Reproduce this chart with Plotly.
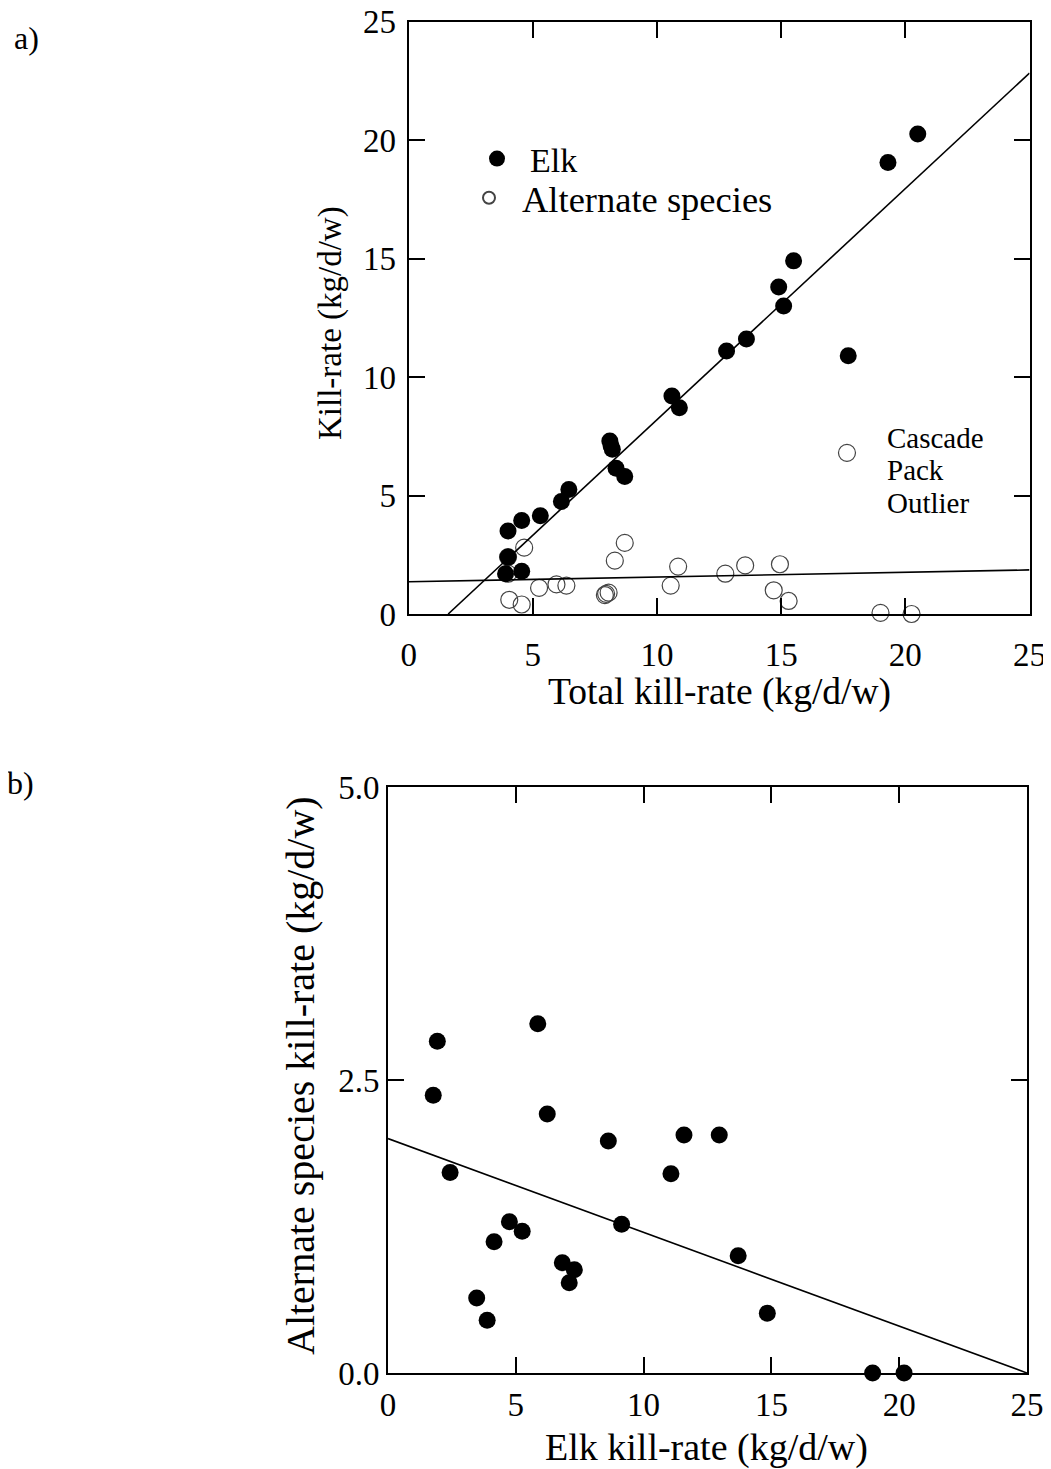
import numpy as np
import plotly.graph_objects as go

# ---------------- data: panel a) ----------------
total_elk_a = [3.9, 4.0, 4.0, 4.55, 4.55, 5.3, 6.15, 6.45, 8.1, 8.2, 8.15, 8.35, 8.7,
               10.6, 10.9, 12.8, 13.6, 14.9, 15.1, 15.5, 17.7, 19.3, 20.5]
elk_a = [1.7, 2.4, 3.5, 3.95, 1.8, 4.15, 4.75, 5.25, 7.3, 6.95, 7.1, 6.15, 5.8,
         9.2, 8.7, 11.1, 11.6, 13.8, 13.0, 14.9, 10.9, 19.05, 20.25]

total_alt_a = [4.05, 4.55, 4.65, 4.0, 4.0, 5.25, 5.95, 6.35, 8.05, 7.95, 7.9, 8.3, 8.7,
               10.55, 10.85, 12.75, 13.55, 14.95, 14.7, 15.3, 19.0, 20.25, 17.65]
alt_a = [0.6, 0.4, 2.8, 2.4, 1.7, 1.1, 1.25, 1.2, 0.9, 0.85, 0.8, 2.25, 3.0,
         1.2, 2.0, 1.7, 2.05, 2.1, 1.0, 0.55, 0.05, 0.0, 6.8]

elk_fit_slope, elk_fit_intercept = 0.975, -1.55
alt_fit_slope, alt_fit_intercept = 0.02, 1.36

# ---------------- data: panel b) ----------------
elk_b = [1.93, 1.77, 5.86, 6.23, 2.43, 4.75, 5.25, 4.15, 3.47, 3.88, 6.82, 7.29, 7.09,
         8.62, 9.14, 11.58, 12.96, 11.07, 13.7, 14.84, 18.96, 20.19]
alt_b = [2.83, 2.37, 2.98, 2.21, 1.71, 1.29, 1.21, 1.12, 0.64, 0.45, 0.94, 0.88, 0.77,
         1.98, 1.27, 2.03, 2.03, 1.70, 1.0, 0.51, 0.0, 0.0]
b_fit_slope, b_fit_intercept = -0.08, 2.0

x_ticks = [0, 5, 10, 15, 20, 25]
y_ticks_a = [0, 5, 10, 15, 20, 25]
y_ticks_b = [0.0, 2.5, 5.0]
y_ticktext_b = ["0.0", "2.5", "5.0"]

FONT = "Liberation Serif, Times New Roman, serif"
OFF = 8                      # page body margin of the browser
W, H = 1051 - OFF, 1469 - OFF


def fx(px):
    return (px - OFF) / W


def fy(py):
    return 1 - (py - OFF) / H


fig = go.Figure()

# panel a: alternate species first so elk dots sit on top
fig.add_trace(go.Scatter(
    x=total_alt_a, y=alt_a, mode="markers", name="Alternate species", legend="legend2",
    marker=dict(symbol="circle-open", size=17, color="#444444", line=dict(width=1.2)),
    xaxis="x", yaxis="y", cliponaxis=False))
fig.add_trace(go.Scatter(
    x=total_elk_a, y=elk_a, mode="markers", name="Elk", legend="legend",
    marker=dict(symbol="circle", size=17, color="black"),
    xaxis="x", yaxis="y", cliponaxis=False))

x0 = -elk_fit_intercept / elk_fit_slope
xl = np.array([x0, 25.0])
fig.add_trace(go.Scatter(x=xl, y=elk_fit_slope * xl + elk_fit_intercept, mode="lines",
                         line=dict(color="black", width=1.6), showlegend=False,
                         xaxis="x", yaxis="y"))
xl2 = np.array([0.0, 25.0])
fig.add_trace(go.Scatter(x=xl2, y=alt_fit_slope * xl2 + alt_fit_intercept, mode="lines",
                         line=dict(color="black", width=1.6), showlegend=False,
                         xaxis="x", yaxis="y"))

# panel b
fig.add_trace(go.Scatter(
    x=elk_b, y=alt_b, mode="markers", showlegend=False,
    marker=dict(symbol="circle", size=17, color="black"),
    xaxis="x2", yaxis="y2", cliponaxis=False))
fig.add_trace(go.Scatter(x=xl2, y=b_fit_slope * xl2 + b_fit_intercept, mode="lines",
                         line=dict(color="black", width=1.6), showlegend=False,
                         xaxis="x2", yaxis="y2"))

axis_common = dict(showline=True, linecolor="black", linewidth=2, mirror="ticks",
                   ticks="inside", ticklen=16, tickwidth=2, tickcolor="black",
                   showgrid=False, zeroline=False, automargin=False,
                   ticklabeloverflow="allow",
                   tickfont=dict(family=FONT, size=33, color="black"))

legend_common = dict(xanchor="left", yanchor="middle", bgcolor="rgba(0,0,0,0)",
                     itemwidth=56)

fig.update_layout(
    template="none",
    width=W, height=H, margin=dict(l=0, r=0, t=0, b=0, pad=0, autoexpand=False),
    paper_bgcolor="white", plot_bgcolor="white",
    font=dict(family=FONT, color="black"),
    xaxis=dict(domain=[fx(408.7), fx(1029.5)], range=[0, 25], tickvals=x_ticks,
               anchor="y", ticklabelstandoff=10, **axis_common),
    yaxis=dict(domain=[fy(614), fy(21.5)], range=[0, 25], tickvals=y_ticks_a,
               anchor="x", ticklabelstandoff=4, **axis_common),
    xaxis2=dict(domain=[fx(388), fx(1027)], range=[0, 25], tickvals=x_ticks,
                anchor="y2", ticklabelstandoff=1, **axis_common),
    yaxis2=dict(domain=[fy(1373), fy(787)], range=[0, 5], tickvals=y_ticks_b,
                ticktext=y_ticktext_b, anchor="x2", ticklabelstandoff=0, **axis_common),
    legend=dict(x=fx(464), y=fy(159), itemsizing="trace",
                font=dict(family=FONT, size=34, color="black"), **legend_common),
    legend2=dict(x=fx(456), y=fy(198), itemsizing="constant",
                 font=dict(family=FONT, size=36.5, color="black"), **legend_common),
)


def ann(text, px, py, size, angle=0, xanchor="center", yanchor="middle", align="center"):
    fig.add_annotation(text=text, x=fx(px), y=fy(py), xref="paper", yref="paper",
                       showarrow=False, textangle=angle, xanchor=xanchor, yanchor=yanchor,
                       align=align, font=dict(family=FONT, size=size, color="black"))


ann("Total kill-rate (kg/d/w)", 719, 692, 37.5)
ann("Kill-rate (kg/d/w)", 330, 323, 33, angle=-90)
ann("Elk kill-rate (kg/d/w)", 706, 1447, 38)
ann("Alternate species kill-rate (kg/d/w)", 300, 1076, 40, angle=-90)
ann("a)", 12, 38, 32, xanchor="left")
ann("b)", 5, 783, 32, xanchor="left")
ann("Cascade", 885, 438, 29, xanchor="left")
ann("Pack", 885, 470, 29, xanchor="left")
ann("Outlier", 885, 503, 29, xanchor="left")

fig.write_html("out.html")
